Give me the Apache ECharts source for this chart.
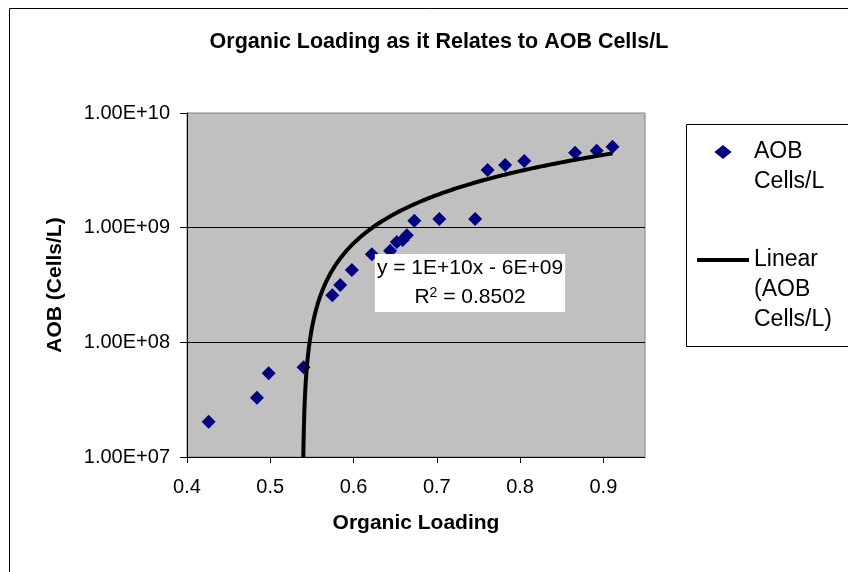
<!DOCTYPE html>
<html>
<head>
<meta charset="utf-8">
<script src="https://cdn.jsdelivr.net/npm/echarts@6/dist/echarts.min.js"></script>
<style>
  html, body { margin: 0; padding: 0; background: #fff; }
  #chart { width: 848px; height: 572px; }
</style>
</head>
<body>
<div id="chart"></div>
<script>
// ---- data ----
var organicLoading = [0.426, 0.484, 0.498, 0.540, 0.5745, 0.584, 0.598, 0.622, 0.644, 0.652, 0.659,
                      0.664, 0.673, 0.703, 0.746, 0.761, 0.782, 0.805, 0.866, 0.892, 0.911];
var aobCells = [2.03e7, 3.29e7, 5.37e7, 6.05e7, 2.58e8, 3.16e8, 4.27e8, 5.85e8, 6.3e8, 7.5e8, 7.8e8,
                8.6e8, 1.15e9, 1.19e9, 1.19e9, 3.18e9, 3.52e9, 3.81e9, 4.50e9, 4.68e9, 5.07e9];
var yTickLabels = ['1.00E+07', '1.00E+08', '1.00E+09', '1.00E+10'];
var xTickLabels = ['0.4', '0.5', '0.6', '0.7', '0.8', '0.9'];
var seriesNames = ['AOB Cells/L', 'Linear (AOB Cells/L)'];
// leading blank lines keep the legend symbol level with the first text line
var legendTexts = ['\nAOB\nCells/L', '\n\nLinear\n(AOB\nCells/L)'];
var equationText = ['y = 1E+10x - 6E+09', 'R', '2', ' = 0.8502'];
var titleText = 'Organic Loading as it Relates to AOB Cells/L';
var xName = 'Organic Loading';
var yName = 'AOB (Cells/L)';

// ---- linear least-squares trendline (as Excel's "Linear" trendline) ----
function linFit(xs, ys) {
  var n = xs.length, mx = 0, my = 0, sxy = 0, sxx = 0;
  for (var i = 0; i < n; i++) { mx += xs[i]; my += ys[i]; }
  mx /= n; my /= n;
  for (var j = 0; j < n; j++) { sxy += (xs[j] - mx) * (ys[j] - my); sxx += (xs[j] - mx) * (xs[j] - mx); }
  var a = sxy / sxx;
  return { a: a, b: my - a * mx };
}
var fit = linFit(organicLoading, aobCells);
var yMin = 1e7, yMax = 1e10;
var xStart = Math.max(Math.min.apply(null, organicLoading), (yMin - fit.b) / fit.a);
var xEnd = Math.max.apply(null, organicLoading);
var trend = [];
var steps = 240;
for (var k = 0; k <= steps; k++) {
  var t = k / steps;
  var xv = xStart + (xEnd - xStart) * t * t * t;
  var yv = fit.a * xv + fit.b;
  if (yv >= yMin) trend.push([xv, yv]);
}

var scatterData = organicLoading.map(function (x, i) { return [x, aobCells[i]]; });

var FONT = '"Liberation Sans", Arial, sans-serif';
var chart = echarts.init(document.getElementById('chart'), null, { renderer: 'canvas' });

chart.setOption({
  backgroundColor: '#ffffff',
  animation: false,
  title: {
    text: titleText,
    left: 434,
    top: 26,
    textAlign: 'center',
    textStyle: { fontFamily: FONT, fontSize: 21.5, fontWeight: 'bold', color: '#000' }
  },
  grid: {
    left: 187, right: 203, top: 113, bottom: 115,
    show: true, backgroundColor: '#c0c0c0', borderColor: '#808080', borderWidth: 1
  },
  legend: {
    orient: 'vertical',
    left: 697,
    top: 107,
    padding: 0,
    itemWidth: 52,
    itemHeight: 14,
    itemGap: -12,
    selectedMode: false,
    symbolKeepAspect: true,
    formatter: function (name) { return legendTexts[seriesNames.indexOf(name)]; },
    textStyle: { fontFamily: FONT, fontSize: 23, lineHeight: 30, color: '#000' },
    data: [
      { name: seriesNames[0], icon: 'path://M0,-6.5L8,0L0,6.5L-8,0Z', itemStyle: { color: '#000080', opacity: 1 } },
      { name: seriesNames[1], icon: 'path://M0,0H52V4H0Z', itemStyle: { color: '#000', opacity: 1 } }
    ]
  },
  xAxis: {
    type: 'value',
    min: 0.4, max: 0.95, interval: 0.1,
    name: xName, nameLocation: 'middle', nameGap: 56,
    nameTextStyle: { fontFamily: FONT, fontSize: 21, fontWeight: 'bold', color: '#000' },
    axisLine: { show: true, lineStyle: { color: '#000', width: 1 } },
    axisTick: { show: true, length: 6, lineStyle: { color: '#000' } },
    axisLabel: {
      margin: 20, showMaxLabel: false,
      fontFamily: FONT, fontSize: 20, color: '#000',
      formatter: function (v) {
        var idx = Math.round((v - 0.4) / 0.1);
        return Math.abs(v - (0.4 + idx * 0.1)) < 1e-6 && idx < xTickLabels.length ? xTickLabels[idx] : '';
      }
    },
    splitLine: { show: false }
  },
  yAxis: {
    type: 'log', logBase: 10,
    min: yMin, max: yMax,
    name: yName, nameLocation: 'middle', nameGap: 121,
    nameTextStyle: { fontFamily: FONT, fontSize: 21, fontWeight: 'bold', color: '#000' },
    axisLine: { show: true, lineStyle: { color: '#000', width: 1 } },
    axisTick: { show: true, length: 7, lineStyle: { color: '#000' } },
    minorTick: { show: false },
    axisLabel: {
      margin: 17, fontFamily: FONT, fontSize: 20, color: '#000',
      formatter: function (v) {
        var e = Math.round(Math.log10(v)) - 7;
        return yTickLabels[e] || '';
      }
    },
    splitLine: { show: true, showMaxLine: false, showMinLine: false, lineStyle: { color: '#000', width: 1 } }
  },
  series: [
    {
      name: seriesNames[0],
      type: 'scatter',
      symbol: 'diamond',
      symbolSize: 14,
      itemStyle: { color: '#000080', opacity: 1 },
      data: scatterData,
      z: 2
    },
    {
      name: seriesNames[1],
      type: 'line',
      symbol: 'none',
      showSymbol: false,
      smooth: false,
      lineStyle: { color: '#000', width: 4 },
      itemStyle: { color: '#000' },
      data: trend,
      z: 3
    }
  ],
  graphic: [
    {
      type: 'rect', silent: true, z: -10,
      shape: { x: 9.5, y: 8.5, width: 1000, height: 800 },
      style: { fill: 'none', stroke: '#000', lineWidth: 1 }
    },
    {
      type: 'rect', silent: true, z: 0,
      shape: { x: 686.5, y: 124.5, width: 300, height: 222 },
      style: { fill: 'none', stroke: '#000', lineWidth: 1 }
    },
    {
      type: 'text', silent: true, z: 100,
      x: 470, y: 254,
      style: {
        text: '{n|' + equationText[0] + '}\n{n|' + equationText[1] + '}{s|' + equationText[2] + '}{n|' + equationText[3] + '}',
        align: 'center',
        verticalAlign: 'top',
        backgroundColor: '#ffffff',
        padding: [0, 2, 0, 2],
        rich: {
          n: { fontFamily: FONT, fontSize: 21, lineHeight: 29, fill: '#000' },
          s: { fontFamily: FONT, fontSize: 14, lineHeight: 14, verticalAlign: 'top', padding: [3, 0, 0, 0], fill: '#000' }
        }
      }
    }
  ]
});
</script>
</body>
</html>
